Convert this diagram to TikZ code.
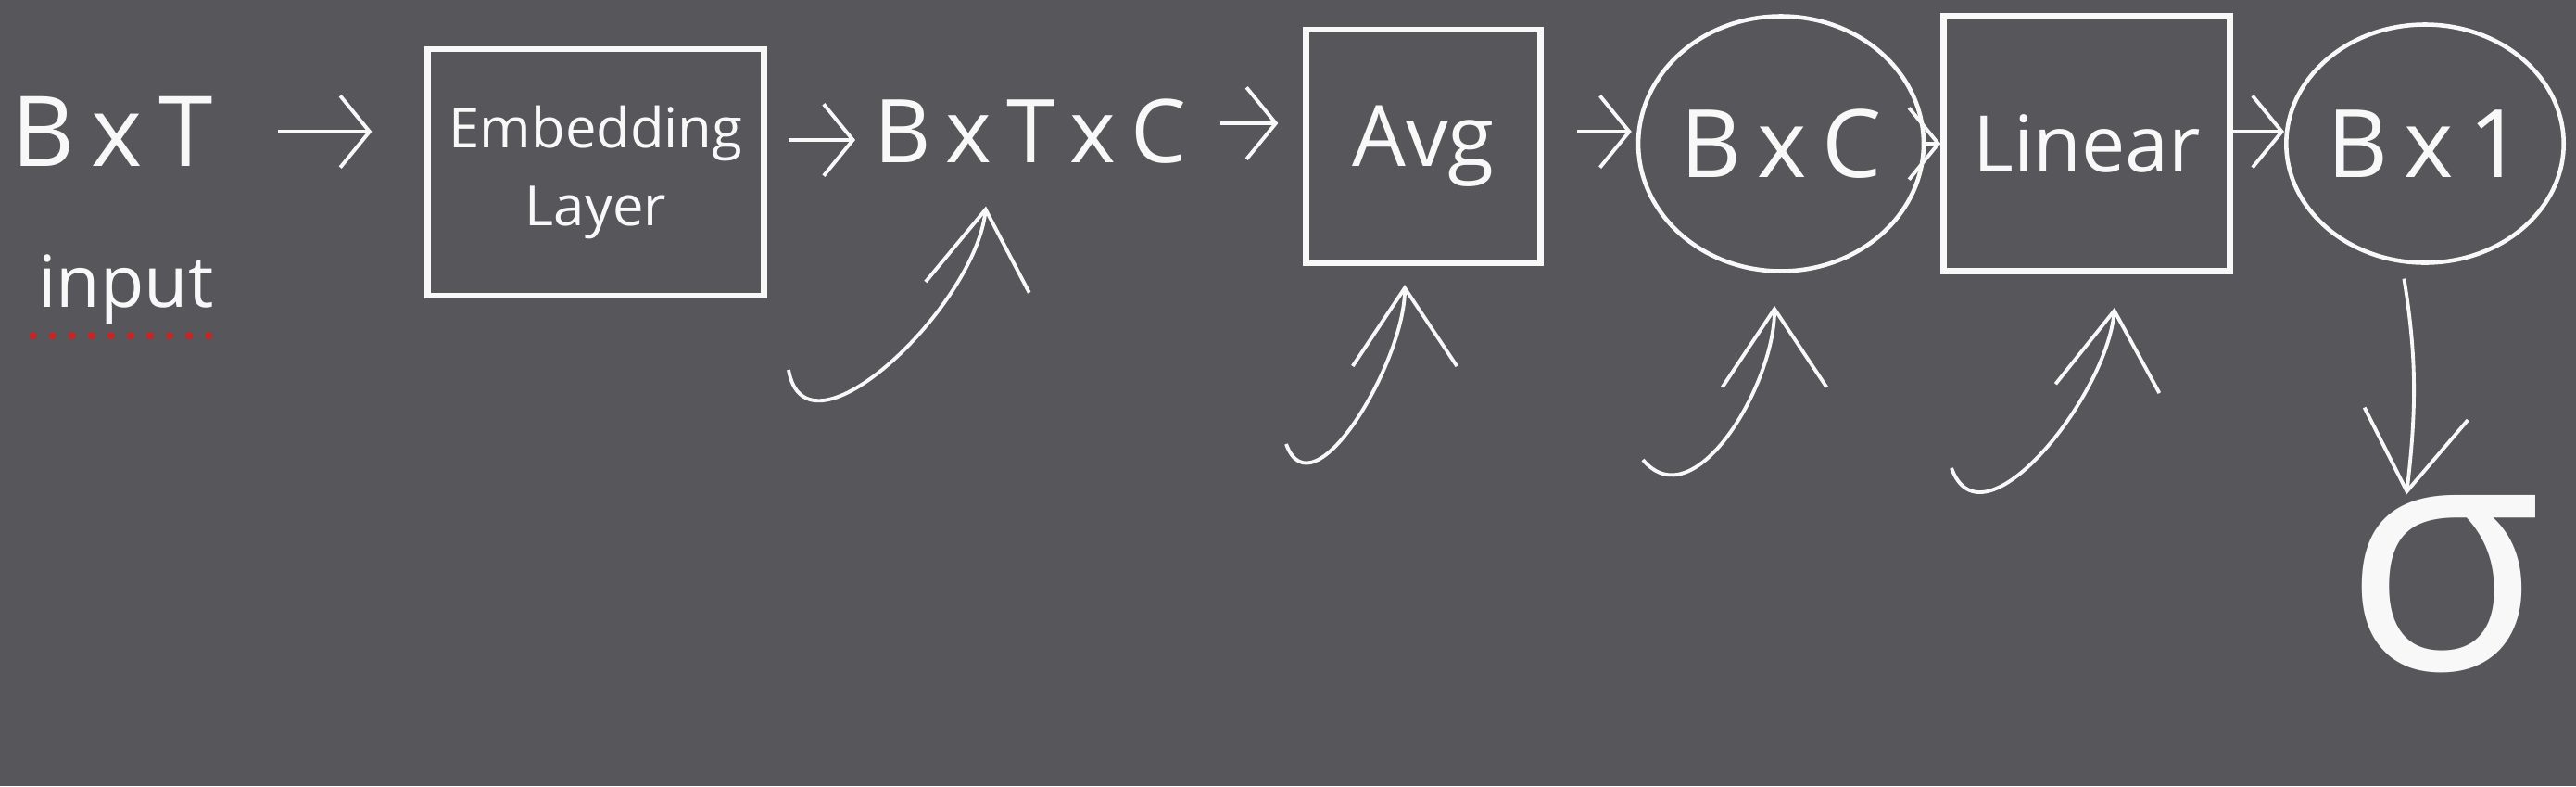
\documentclass[tikz,border=0pt]{standalone}
\usepackage{fontspec}
\setmainfont{Open Sans}
\usetikzlibrary{arrows.meta,shapes.geometric}
\definecolor{board}{RGB}{87,87,91}
\definecolor{chalk}{RGB}{248,248,248}
\definecolor{spell}{RGB}{196,38,38}
\tikzset{
  lbl/.style={text=chalk, inner sep=0pt, font=\fontsize{30}{34}\selectfont},
  blk/.style={draw=chalk, line width=1.8pt, text=chalk, align=center, inner sep=0pt},
  ring/.style={draw=chalk, line width=1.3pt, text=chalk, ellipse, inner sep=0pt, font=\fontsize{29}{34}\selectfont},
  flow/.style={draw=chalk, line width=1.1pt, -{Straight Barb[length=9pt,width=22pt,line width=1.1pt]}},
  feed/.style={draw=chalk, line width=1.1pt, -{Straight Barb[length=24pt,width=32pt,line width=1.1pt]}}
}
\begin{document}
\begin{tikzpicture}
\useasboundingbox[fill=board] (0,0) rectangle (27.8,-8.48);
\node[lbl] (bxt) at (1.21,-1.42) {B\,x\,T};
\node[lbl, font=\fontsize{22}{26}\selectfont] (input) at (1.36,-3.12) {input};
\node[blk, minimum width=3.63cm, minimum height=2.66cm, font=\fontsize{17}{24}\selectfont] (embed) at (6.43,-1.86) {Embedding\\Layer};
\node[lbl, font=\fontsize{27}{32}\selectfont] (bxtxc) at (11.12,-1.42) {B\,x\,T\,x\,C};
\node[blk, minimum width=2.53cm, minimum height=2.52cm, font=\fontsize{26}{30}\selectfont] (avg) at (15.36,-1.58) {Avg};
\node[ring, minimum width=2.7cm, minimum height=2.75cm] (bxc) at (19.22,-1.55) {B\,x\,C};
\node[blk, minimum width=3.09cm, minimum height=2.75cm, font=\fontsize{24}{28}\selectfont] (linear) at (22.52,-1.55) {Linear};
\node[ring, minimum width=2.8cm, minimum height=2.57cm] (bxone) at (26.17,-1.55) {B\,x\,1};
\node[lbl, font=\fontsize{100}{100}\selectfont] (sigma) at (26.37,-6.30) {σ};
\coordinate (tailA) at (8.51,-3.99);
\coordinate (tailB) at (13.88,-4.79);
\coordinate (tailC) at (17.73,-4.96);
\coordinate (tailD) at (21.06,-5.05);
\draw[spell, line width=2.4pt, line cap=round, dash pattern=on 0pt off 6pt] ([shift={(-0.05,-0.12)}]input.south west) -- ([shift={(0.12,-0.12)}]input.south east);
\draw[flow, shorten <=0.7cm, shorten >=0.57cm] (bxt.east) -- (bxt.east -| embed.west);
\draw[flow, shorten <=0.23cm, shorten >=0.2cm] (embed.east |- 0,-1.51) -- (bxtxc.west |- 0,-1.51);
\draw[flow, shorten <=0.36cm, shorten >=0.27cm] (bxtxc.east |- 0,-1.33) -- (avg.west |- 0,-1.33);
\draw[flow, shorten <=0.36cm, shorten >=0.05cm] (avg.east |- bxt) -- (bxc.west |- bxt);
\draw[flow] (bxc.east) -- (linear.west);
\draw[flow] (linear.east |- bxt) -- (bxone.west |- bxt);
\draw[feed] (tailA) to[out=-80, in=-96] ([shift={(-0.48,-0.45)}]bxtxc.south);
\draw[feed] (tailB) to[out=-70, in=-90] ([shift={(-0.2,-0.2)}]avg.south);
\draw[feed] (tailC) to[out=-50, in=-90] ([shift={(-0.07,-0.35)}]bxc.south);
\draw[feed] (tailD) to[out=-70, in=-95] ([shift={(0.3,-0.36)}]linear.south);
\draw[feed, shorten <=0.15cm] ([xshift=-0.25cm]bxone.south) to[bend left=8] ([xshift=-0.4cm]sigma.north);
\end{tikzpicture}
\end{document}
